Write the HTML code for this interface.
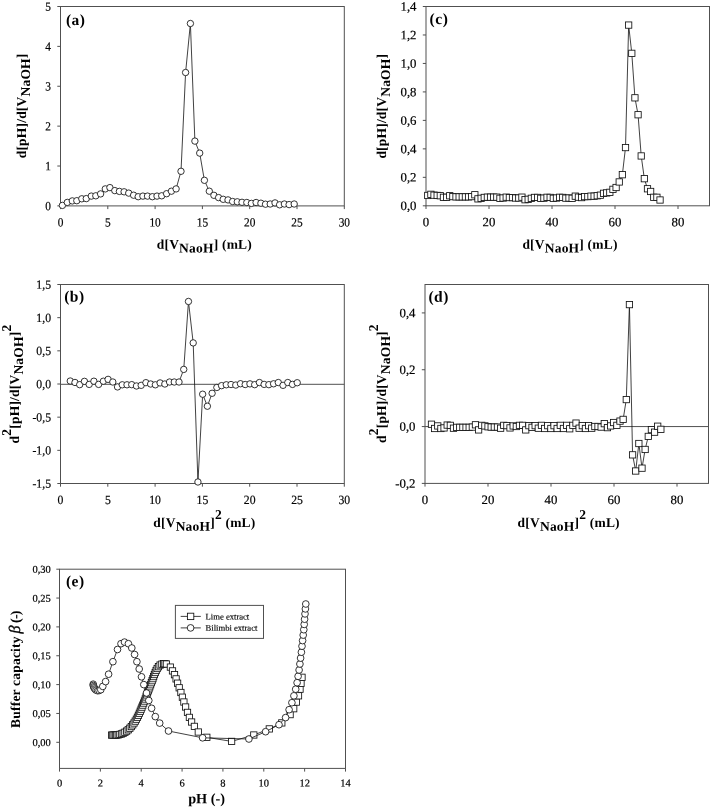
<!DOCTYPE html>
<html lang="en"><head><meta charset="utf-8"><title>Titration derivative curves and buffer capacity</title>
<style>html,body{margin:0;padding:0;background:#fff}svg{display:block}</style></head><body>
<svg width="710" height="807" viewBox="0 0 710 807" font-family="'Liberation Serif', 'Times New Roman', Times, serif" fill="#000" text-rendering="geometricPrecision" style="will-change:transform;filter:grayscale(1)">
<rect width="710" height="807" fill="#fff"/>
<rect x="60.5" y="6.5" width="283.8" height="199.4" fill="none" stroke="#505050" stroke-width="1.0"/>
<line x1="60.5" y1="205.9" x2="60.5" y2="209.1" stroke="#505050" stroke-width="1.0"/>
<text transform="translate(60.5 226.4) rotate(0.05) scale(0.9 1)" font-size="12.6" text-anchor="middle" stroke="#000" stroke-width="0.2">0</text>
<line x1="107.8" y1="205.9" x2="107.8" y2="209.1" stroke="#505050" stroke-width="1.0"/>
<text transform="translate(107.8 226.4) rotate(0.05) scale(0.9 1)" font-size="12.6" text-anchor="middle" stroke="#000" stroke-width="0.2">5</text>
<line x1="155.1" y1="205.9" x2="155.1" y2="209.1" stroke="#505050" stroke-width="1.0"/>
<text transform="translate(155.1 226.4) rotate(0.05) scale(0.9 1)" font-size="12.6" text-anchor="middle" stroke="#000" stroke-width="0.2">10</text>
<line x1="202.4" y1="205.9" x2="202.4" y2="209.1" stroke="#505050" stroke-width="1.0"/>
<text transform="translate(202.4 226.4) rotate(0.05) scale(0.9 1)" font-size="12.6" text-anchor="middle" stroke="#000" stroke-width="0.2">15</text>
<line x1="249.7" y1="205.9" x2="249.7" y2="209.1" stroke="#505050" stroke-width="1.0"/>
<text transform="translate(249.7 226.4) rotate(0.05) scale(0.9 1)" font-size="12.6" text-anchor="middle" stroke="#000" stroke-width="0.2">20</text>
<line x1="297" y1="205.9" x2="297" y2="209.1" stroke="#505050" stroke-width="1.0"/>
<text transform="translate(297 226.4) rotate(0.05) scale(0.9 1)" font-size="12.6" text-anchor="middle" stroke="#000" stroke-width="0.2">25</text>
<line x1="344.3" y1="205.9" x2="344.3" y2="209.1" stroke="#505050" stroke-width="1.0"/>
<text transform="translate(344.3 226.4) rotate(0.05) scale(0.9 1)" font-size="12.6" text-anchor="middle" stroke="#000" stroke-width="0.2">30</text>
<line x1="57.3" y1="205.9" x2="60.5" y2="205.9" stroke="#505050" stroke-width="1.0"/>
<text transform="translate(51 210.2) rotate(0.05) scale(0.9 1)" font-size="12.6" text-anchor="end" stroke="#000" stroke-width="0.2">0</text>
<line x1="57.3" y1="166.02" x2="60.5" y2="166.02" stroke="#505050" stroke-width="1.0"/>
<text transform="translate(51 170.32) rotate(0.05) scale(0.9 1)" font-size="12.6" text-anchor="end" stroke="#000" stroke-width="0.2">1</text>
<line x1="57.3" y1="126.14" x2="60.5" y2="126.14" stroke="#505050" stroke-width="1.0"/>
<text transform="translate(51 130.44) rotate(0.05) scale(0.9 1)" font-size="12.6" text-anchor="end" stroke="#000" stroke-width="0.2">2</text>
<line x1="57.3" y1="86.26" x2="60.5" y2="86.26" stroke="#505050" stroke-width="1.0"/>
<text transform="translate(51 90.56) rotate(0.05) scale(0.9 1)" font-size="12.6" text-anchor="end" stroke="#000" stroke-width="0.2">3</text>
<line x1="57.3" y1="46.38" x2="60.5" y2="46.38" stroke="#505050" stroke-width="1.0"/>
<text transform="translate(51 50.68) rotate(0.05) scale(0.9 1)" font-size="12.6" text-anchor="end" stroke="#000" stroke-width="0.2">4</text>
<line x1="57.3" y1="6.5" x2="60.5" y2="6.5" stroke="#505050" stroke-width="1.0"/>
<text transform="translate(51 10.8) rotate(0.05) scale(0.9 1)" font-size="12.6" text-anchor="end" stroke="#000" stroke-width="0.2">5</text>
<polyline points="62.4,205.4 67.3,202.4 72.3,200.9 76.8,200.7 81.8,198.8 86.3,198.6 91.3,196.1 95.8,195.8 100.6,193.9 105.3,188.9 109.9,187.6 114.8,190.6 119.4,191.4 124.1,191.8 128.7,193.1 133.6,195.2 138.2,196.7 142.9,196.1 147.5,196.1 152.4,196.7 157,196.1 161.7,195.8 166.6,193.7 171.4,191.2 176.1,188.9 181,171.3 185.6,72.5 190.4,23.5 194.9,141.1 199.7,153.1 204.4,180.3 209.3,191.2 213.9,195.3 218.6,197.6 223.2,199.3 228,199.9 232.6,201.5 237.3,201.8 242,202.3 246.8,202.5 251.4,203.4 256.1,202.5 260.9,203.2 265.5,204.2 270.2,204 275,202.9 279.6,204.8 284.4,204 289.1,204.6 294.2,204" fill="none" stroke="#111" stroke-width="0.8" stroke-linejoin="round"/>
<g fill="#fff" stroke="#111" stroke-width="0.85">
<circle cx="62.4" cy="205.4" r="3.2"/>
<circle cx="67.3" cy="202.4" r="3.2"/>
<circle cx="72.3" cy="200.9" r="3.2"/>
<circle cx="76.8" cy="200.7" r="3.2"/>
<circle cx="81.8" cy="198.8" r="3.2"/>
<circle cx="86.3" cy="198.6" r="3.2"/>
<circle cx="91.3" cy="196.1" r="3.2"/>
<circle cx="95.8" cy="195.8" r="3.2"/>
<circle cx="100.6" cy="193.9" r="3.2"/>
<circle cx="105.3" cy="188.9" r="3.2"/>
<circle cx="109.9" cy="187.6" r="3.2"/>
<circle cx="114.8" cy="190.6" r="3.2"/>
<circle cx="119.4" cy="191.4" r="3.2"/>
<circle cx="124.1" cy="191.8" r="3.2"/>
<circle cx="128.7" cy="193.1" r="3.2"/>
<circle cx="133.6" cy="195.2" r="3.2"/>
<circle cx="138.2" cy="196.7" r="3.2"/>
<circle cx="142.9" cy="196.1" r="3.2"/>
<circle cx="147.5" cy="196.1" r="3.2"/>
<circle cx="152.4" cy="196.7" r="3.2"/>
<circle cx="157" cy="196.1" r="3.2"/>
<circle cx="161.7" cy="195.8" r="3.2"/>
<circle cx="166.6" cy="193.7" r="3.2"/>
<circle cx="171.4" cy="191.2" r="3.2"/>
<circle cx="176.1" cy="188.9" r="3.2"/>
<circle cx="181" cy="171.3" r="3.2"/>
<circle cx="185.6" cy="72.5" r="3.2"/>
<circle cx="190.4" cy="23.5" r="3.2"/>
<circle cx="194.9" cy="141.1" r="3.2"/>
<circle cx="199.7" cy="153.1" r="3.2"/>
<circle cx="204.4" cy="180.3" r="3.2"/>
<circle cx="209.3" cy="191.2" r="3.2"/>
<circle cx="213.9" cy="195.3" r="3.2"/>
<circle cx="218.6" cy="197.6" r="3.2"/>
<circle cx="223.2" cy="199.3" r="3.2"/>
<circle cx="228" cy="199.9" r="3.2"/>
<circle cx="232.6" cy="201.5" r="3.2"/>
<circle cx="237.3" cy="201.8" r="3.2"/>
<circle cx="242" cy="202.3" r="3.2"/>
<circle cx="246.8" cy="202.5" r="3.2"/>
<circle cx="251.4" cy="203.4" r="3.2"/>
<circle cx="256.1" cy="202.5" r="3.2"/>
<circle cx="260.9" cy="203.2" r="3.2"/>
<circle cx="265.5" cy="204.2" r="3.2"/>
<circle cx="270.2" cy="204" r="3.2"/>
<circle cx="275" cy="202.9" r="3.2"/>
<circle cx="279.6" cy="204.8" r="3.2"/>
<circle cx="284.4" cy="204" r="3.2"/>
<circle cx="289.1" cy="204.6" r="3.2"/>
<circle cx="294.2" cy="204" r="3.2"/>
</g>
<text x="65.9" y="25" transform="rotate(0.05 65.9 25)" font-size="15.5" font-weight="bold" letter-spacing="0.5">(a)</text>
<text transform="translate(25.8,105.9) rotate(-90)" font-size="13.5" font-weight="bold" text-anchor="middle" letter-spacing="0.2">d[pH]/d[V<tspan dy="3.8" font-size="13.5">NaOH</tspan><tspan dy="-3.8">]</tspan></text>
<text x="204.4" y="248.8" transform="rotate(0.05 204.4 248.8)" font-size="13.5" font-weight="bold" text-anchor="middle" letter-spacing="0.2">d[V<tspan dy="3.8" font-size="13.5">NaoH</tspan><tspan dy="-3.8">]</tspan> (mL)</text>
<rect x="60.5" y="284.5" width="283.8" height="199" fill="none" stroke="#505050" stroke-width="1.0"/>
<line x1="60.5" y1="483.5" x2="60.5" y2="486.7" stroke="#505050" stroke-width="1.0"/>
<text transform="translate(60.5 504) rotate(0.05) scale(0.93 1)" font-size="12.6" text-anchor="middle" stroke="#000" stroke-width="0.2">0</text>
<line x1="107.8" y1="483.5" x2="107.8" y2="486.7" stroke="#505050" stroke-width="1.0"/>
<text transform="translate(107.8 504) rotate(0.05) scale(0.93 1)" font-size="12.6" text-anchor="middle" stroke="#000" stroke-width="0.2">5</text>
<line x1="155.1" y1="483.5" x2="155.1" y2="486.7" stroke="#505050" stroke-width="1.0"/>
<text transform="translate(155.1 504) rotate(0.05) scale(0.93 1)" font-size="12.6" text-anchor="middle" stroke="#000" stroke-width="0.2">10</text>
<line x1="202.4" y1="483.5" x2="202.4" y2="486.7" stroke="#505050" stroke-width="1.0"/>
<text transform="translate(202.4 504) rotate(0.05) scale(0.93 1)" font-size="12.6" text-anchor="middle" stroke="#000" stroke-width="0.2">15</text>
<line x1="249.7" y1="483.5" x2="249.7" y2="486.7" stroke="#505050" stroke-width="1.0"/>
<text transform="translate(249.7 504) rotate(0.05) scale(0.93 1)" font-size="12.6" text-anchor="middle" stroke="#000" stroke-width="0.2">20</text>
<line x1="297" y1="483.5" x2="297" y2="486.7" stroke="#505050" stroke-width="1.0"/>
<text transform="translate(297 504) rotate(0.05) scale(0.93 1)" font-size="12.6" text-anchor="middle" stroke="#000" stroke-width="0.2">25</text>
<line x1="344.3" y1="483.5" x2="344.3" y2="486.7" stroke="#505050" stroke-width="1.0"/>
<text transform="translate(344.3 504) rotate(0.05) scale(0.93 1)" font-size="12.6" text-anchor="middle" stroke="#000" stroke-width="0.2">30</text>
<line x1="57.3" y1="483.5" x2="60.5" y2="483.5" stroke="#505050" stroke-width="1.0"/>
<text transform="translate(51 487.8) rotate(0.05) scale(0.93 1)" font-size="12.6" text-anchor="end" stroke="#000" stroke-width="0.2">-1,5</text>
<line x1="57.3" y1="450.33" x2="60.5" y2="450.33" stroke="#505050" stroke-width="1.0"/>
<text transform="translate(51 454.63) rotate(0.05) scale(0.93 1)" font-size="12.6" text-anchor="end" stroke="#000" stroke-width="0.2">-1,0</text>
<line x1="57.3" y1="417.17" x2="60.5" y2="417.17" stroke="#505050" stroke-width="1.0"/>
<text transform="translate(51 421.47) rotate(0.05) scale(0.93 1)" font-size="12.6" text-anchor="end" stroke="#000" stroke-width="0.2">-0,5</text>
<line x1="57.3" y1="384" x2="60.5" y2="384" stroke="#505050" stroke-width="1.0"/>
<text transform="translate(51 388.3) rotate(0.05) scale(0.93 1)" font-size="12.6" text-anchor="end" stroke="#000" stroke-width="0.2">0,0</text>
<line x1="57.3" y1="350.83" x2="60.5" y2="350.83" stroke="#505050" stroke-width="1.0"/>
<text transform="translate(51 355.13) rotate(0.05) scale(0.93 1)" font-size="12.6" text-anchor="end" stroke="#000" stroke-width="0.2">0,5</text>
<line x1="57.3" y1="317.67" x2="60.5" y2="317.67" stroke="#505050" stroke-width="1.0"/>
<text transform="translate(51 321.97) rotate(0.05) scale(0.93 1)" font-size="12.6" text-anchor="end" stroke="#000" stroke-width="0.2">1,0</text>
<line x1="57.3" y1="284.5" x2="60.5" y2="284.5" stroke="#505050" stroke-width="1.0"/>
<text transform="translate(51 288.8) rotate(0.05) scale(0.93 1)" font-size="12.6" text-anchor="end" stroke="#000" stroke-width="0.2">1,5</text>
<line x1="60.5" y1="384.3" x2="344.3" y2="384.3" stroke="#505050" stroke-width="1.0"/>
<polyline points="70.26,381.02 74.99,382.48 79.71,384.66 84.44,381.35 89.17,384.4 93.9,381.22 98.63,384.4 103.36,381.22 108.09,379.36 112.81,382.01 117.54,386.92 122.27,384.8 127,384.8 131.73,384.66 136.46,385.99 141.18,385.33 145.91,382.67 150.64,384 155.37,384.8 160.1,382.94 164.83,384 169.56,382.01 174.28,382.01 179.01,382.01 183.74,369.41 188.47,301.46 193.2,342.89 197.93,481.99 202.66,394.21 207.38,406.21 212.11,393.28 216.84,387.45 221.57,385.66 226.3,384.8 231.03,384.53 235.75,385.06 240.48,383.73 245.21,384.53 249.94,383.87 254.67,384.66 259.4,382.54 264.13,384.4 268.85,384.66 273.58,383.8 278.31,382.54 283.04,385.33 287.77,382.54 292.5,384.4 297.23,382.74" fill="none" stroke="#111" stroke-width="0.8" stroke-linejoin="round"/>
<g fill="#fff" stroke="#111" stroke-width="0.85">
<circle cx="70.26" cy="381.02" r="3.2"/>
<circle cx="74.99" cy="382.48" r="3.2"/>
<circle cx="79.71" cy="384.66" r="3.2"/>
<circle cx="84.44" cy="381.35" r="3.2"/>
<circle cx="89.17" cy="384.4" r="3.2"/>
<circle cx="93.9" cy="381.22" r="3.2"/>
<circle cx="98.63" cy="384.4" r="3.2"/>
<circle cx="103.36" cy="381.22" r="3.2"/>
<circle cx="108.09" cy="379.36" r="3.2"/>
<circle cx="112.81" cy="382.01" r="3.2"/>
<circle cx="117.54" cy="386.92" r="3.2"/>
<circle cx="122.27" cy="384.8" r="3.2"/>
<circle cx="127" cy="384.8" r="3.2"/>
<circle cx="131.73" cy="384.66" r="3.2"/>
<circle cx="136.46" cy="385.99" r="3.2"/>
<circle cx="141.18" cy="385.33" r="3.2"/>
<circle cx="145.91" cy="382.67" r="3.2"/>
<circle cx="150.64" cy="384" r="3.2"/>
<circle cx="155.37" cy="384.8" r="3.2"/>
<circle cx="160.1" cy="382.94" r="3.2"/>
<circle cx="164.83" cy="384" r="3.2"/>
<circle cx="169.56" cy="382.01" r="3.2"/>
<circle cx="174.28" cy="382.01" r="3.2"/>
<circle cx="179.01" cy="382.01" r="3.2"/>
<circle cx="183.74" cy="369.41" r="3.2"/>
<circle cx="188.47" cy="301.46" r="3.2"/>
<circle cx="193.2" cy="342.89" r="3.2"/>
<circle cx="197.93" cy="481.99" r="3.2"/>
<circle cx="202.66" cy="394.21" r="3.2"/>
<circle cx="207.38" cy="406.21" r="3.2"/>
<circle cx="212.11" cy="393.28" r="3.2"/>
<circle cx="216.84" cy="387.45" r="3.2"/>
<circle cx="221.57" cy="385.66" r="3.2"/>
<circle cx="226.3" cy="384.8" r="3.2"/>
<circle cx="231.03" cy="384.53" r="3.2"/>
<circle cx="235.75" cy="385.06" r="3.2"/>
<circle cx="240.48" cy="383.73" r="3.2"/>
<circle cx="245.21" cy="384.53" r="3.2"/>
<circle cx="249.94" cy="383.87" r="3.2"/>
<circle cx="254.67" cy="384.66" r="3.2"/>
<circle cx="259.4" cy="382.54" r="3.2"/>
<circle cx="264.13" cy="384.4" r="3.2"/>
<circle cx="268.85" cy="384.66" r="3.2"/>
<circle cx="273.58" cy="383.8" r="3.2"/>
<circle cx="278.31" cy="382.54" r="3.2"/>
<circle cx="283.04" cy="385.33" r="3.2"/>
<circle cx="287.77" cy="382.54" r="3.2"/>
<circle cx="292.5" cy="384.4" r="3.2"/>
<circle cx="297.23" cy="382.74" r="3.2"/>
</g>
<text x="64.2" y="301.5" transform="rotate(0.05 64.2 301.5)" font-size="15.5" font-weight="bold" letter-spacing="0.5">(b)</text>
<text transform="translate(19.3,384) rotate(-90)" font-size="13.5" font-weight="bold" text-anchor="middle" letter-spacing="0.2">d<tspan dy="-8">2</tspan><tspan dy="8">[pH]/d[V</tspan><tspan dy="3.8" font-size="13.5">NaOH</tspan><tspan dy="-3.8">]</tspan><tspan dy="-8">2</tspan></text>
<text x="204.4" y="527" transform="rotate(0.05 204.4 527)" font-size="13.5" font-weight="bold" text-anchor="middle" letter-spacing="0.2">d[V<tspan dy="3.8" font-size="13.5">NaoH</tspan><tspan dy="-3.8">]</tspan><tspan dy="-8" font-size="13.5">2</tspan><tspan dy="8"> (mL)</tspan></text>
<rect x="426" y="6.5" width="283.5" height="199.3" fill="none" stroke="#505050" stroke-width="1.0"/>
<line x1="426" y1="205.8" x2="426" y2="209" stroke="#505050" stroke-width="1.0"/>
<text transform="translate(426 226.3) rotate(0.05) scale(1.0 1)" font-size="12.8" text-anchor="middle" stroke="#000" stroke-width="0.2">0</text>
<line x1="489" y1="205.8" x2="489" y2="209" stroke="#505050" stroke-width="1.0"/>
<text transform="translate(489 226.3) rotate(0.05) scale(1.0 1)" font-size="12.8" text-anchor="middle" stroke="#000" stroke-width="0.2">20</text>
<line x1="552" y1="205.8" x2="552" y2="209" stroke="#505050" stroke-width="1.0"/>
<text transform="translate(552 226.3) rotate(0.05) scale(1.0 1)" font-size="12.8" text-anchor="middle" stroke="#000" stroke-width="0.2">40</text>
<line x1="615" y1="205.8" x2="615" y2="209" stroke="#505050" stroke-width="1.0"/>
<text transform="translate(615 226.3) rotate(0.05) scale(1.0 1)" font-size="12.8" text-anchor="middle" stroke="#000" stroke-width="0.2">60</text>
<line x1="678" y1="205.8" x2="678" y2="209" stroke="#505050" stroke-width="1.0"/>
<text transform="translate(678 226.3) rotate(0.05) scale(1.0 1)" font-size="12.8" text-anchor="middle" stroke="#000" stroke-width="0.2">80</text>
<line x1="422.8" y1="205.8" x2="426" y2="205.8" stroke="#505050" stroke-width="1.0"/>
<text transform="translate(416.5 210.1) rotate(0.05) scale(1.0 1)" font-size="12.8" text-anchor="end" stroke="#000" stroke-width="0.2">0,0</text>
<line x1="422.8" y1="177.33" x2="426" y2="177.33" stroke="#505050" stroke-width="1.0"/>
<text transform="translate(416.5 181.63) rotate(0.05) scale(1.0 1)" font-size="12.8" text-anchor="end" stroke="#000" stroke-width="0.2">0,2</text>
<line x1="422.8" y1="148.86" x2="426" y2="148.86" stroke="#505050" stroke-width="1.0"/>
<text transform="translate(416.5 153.16) rotate(0.05) scale(1.0 1)" font-size="12.8" text-anchor="end" stroke="#000" stroke-width="0.2">0,4</text>
<line x1="422.8" y1="120.39" x2="426" y2="120.39" stroke="#505050" stroke-width="1.0"/>
<text transform="translate(416.5 124.69) rotate(0.05) scale(1.0 1)" font-size="12.8" text-anchor="end" stroke="#000" stroke-width="0.2">0,6</text>
<line x1="422.8" y1="91.91" x2="426" y2="91.91" stroke="#505050" stroke-width="1.0"/>
<text transform="translate(416.5 96.21) rotate(0.05) scale(1.0 1)" font-size="12.8" text-anchor="end" stroke="#000" stroke-width="0.2">0,8</text>
<line x1="422.8" y1="63.44" x2="426" y2="63.44" stroke="#505050" stroke-width="1.0"/>
<text transform="translate(416.5 67.74) rotate(0.05) scale(1.0 1)" font-size="12.8" text-anchor="end" stroke="#000" stroke-width="0.2">1,0</text>
<line x1="422.8" y1="34.97" x2="426" y2="34.97" stroke="#505050" stroke-width="1.0"/>
<text transform="translate(416.5 39.27) rotate(0.05) scale(1.0 1)" font-size="12.8" text-anchor="end" stroke="#000" stroke-width="0.2">1,2</text>
<line x1="422.8" y1="6.5" x2="426" y2="6.5" stroke="#505050" stroke-width="1.0"/>
<text transform="translate(416.5 10.8) rotate(0.05) scale(1.0 1)" font-size="12.8" text-anchor="end" stroke="#000" stroke-width="0.2">1,4</text>
<polyline points="427.76,195.45 430.89,194.32 434.03,195.17 437.17,195.45 440.31,195.74 443.45,197.3 446.59,197.3 449.73,195.74 452.87,196.59 456.01,196.87 459.15,196.87 462.28,196.87 465.42,196.87 468.56,196.87 471.7,196.59 474.84,194.74 477.98,198.86 481.12,198.3 484.26,197.44 487.4,197.16 490.54,197.16 493.67,197.16 496.81,197.16 499.95,198.3 503.09,198.01 506.23,197.16 509.37,197.58 512.51,197.58 515.65,198.01 518.79,198.01 521.93,197.16 525.06,199.72 528.2,199.29 531.34,198.3 534.48,197.44 537.62,197.44 540.76,198.3 543.9,198.15 547.04,197.3 550.18,197.44 553.32,198.3 556.45,198.01 559.59,197.3 562.73,197.44 565.87,198.15 569.01,198.01 572.15,198.3 575.29,196.16 578.43,197.16 581.57,197.58 584.71,196.59 587.84,196.59 590.98,196.16 594.12,196.16 597.26,195.74 600.4,195.17 603.54,193.32 606.68,192.9 609.82,192.33 612.96,189.34 616.1,187.5 619.23,181.95 622.37,174.71 625.51,147.57 628.65,25.08 631.79,53.35 634.93,97.83 638.07,114.74 641.21,155.95 644.35,178.69 647.49,188.77 650.62,191.47 653.76,197.3 656.9,197.3 660.04,200" fill="none" stroke="#111" stroke-width="0.8" stroke-linejoin="round"/>
<g fill="#fff" stroke="#111" stroke-width="0.85">
<rect x="424.61" y="192.3" width="6.3" height="6.3"/>
<rect x="427.74" y="191.17" width="6.3" height="6.3"/>
<rect x="430.88" y="192.02" width="6.3" height="6.3"/>
<rect x="434.02" y="192.3" width="6.3" height="6.3"/>
<rect x="437.16" y="192.59" width="6.3" height="6.3"/>
<rect x="440.3" y="194.15" width="6.3" height="6.3"/>
<rect x="443.44" y="194.15" width="6.3" height="6.3"/>
<rect x="446.58" y="192.59" width="6.3" height="6.3"/>
<rect x="449.72" y="193.44" width="6.3" height="6.3"/>
<rect x="452.86" y="193.72" width="6.3" height="6.3"/>
<rect x="456" y="193.72" width="6.3" height="6.3"/>
<rect x="459.13" y="193.72" width="6.3" height="6.3"/>
<rect x="462.27" y="193.72" width="6.3" height="6.3"/>
<rect x="465.41" y="193.72" width="6.3" height="6.3"/>
<rect x="468.55" y="193.44" width="6.3" height="6.3"/>
<rect x="471.69" y="191.59" width="6.3" height="6.3"/>
<rect x="474.83" y="195.71" width="6.3" height="6.3"/>
<rect x="477.97" y="195.15" width="6.3" height="6.3"/>
<rect x="481.11" y="194.29" width="6.3" height="6.3"/>
<rect x="484.25" y="194.01" width="6.3" height="6.3"/>
<rect x="487.39" y="194.01" width="6.3" height="6.3"/>
<rect x="490.52" y="194.01" width="6.3" height="6.3"/>
<rect x="493.66" y="194.01" width="6.3" height="6.3"/>
<rect x="496.8" y="195.15" width="6.3" height="6.3"/>
<rect x="499.94" y="194.86" width="6.3" height="6.3"/>
<rect x="503.08" y="194.01" width="6.3" height="6.3"/>
<rect x="506.22" y="194.43" width="6.3" height="6.3"/>
<rect x="509.36" y="194.43" width="6.3" height="6.3"/>
<rect x="512.5" y="194.86" width="6.3" height="6.3"/>
<rect x="515.64" y="194.86" width="6.3" height="6.3"/>
<rect x="518.78" y="194.01" width="6.3" height="6.3"/>
<rect x="521.91" y="196.57" width="6.3" height="6.3"/>
<rect x="525.05" y="196.14" width="6.3" height="6.3"/>
<rect x="528.19" y="195.15" width="6.3" height="6.3"/>
<rect x="531.33" y="194.29" width="6.3" height="6.3"/>
<rect x="534.47" y="194.29" width="6.3" height="6.3"/>
<rect x="537.61" y="195.15" width="6.3" height="6.3"/>
<rect x="540.75" y="195" width="6.3" height="6.3"/>
<rect x="543.89" y="194.15" width="6.3" height="6.3"/>
<rect x="547.03" y="194.29" width="6.3" height="6.3"/>
<rect x="550.17" y="195.15" width="6.3" height="6.3"/>
<rect x="553.3" y="194.86" width="6.3" height="6.3"/>
<rect x="556.44" y="194.15" width="6.3" height="6.3"/>
<rect x="559.58" y="194.29" width="6.3" height="6.3"/>
<rect x="562.72" y="195" width="6.3" height="6.3"/>
<rect x="565.86" y="194.86" width="6.3" height="6.3"/>
<rect x="569" y="195.15" width="6.3" height="6.3"/>
<rect x="572.14" y="193.01" width="6.3" height="6.3"/>
<rect x="575.28" y="194.01" width="6.3" height="6.3"/>
<rect x="578.42" y="194.43" width="6.3" height="6.3"/>
<rect x="581.56" y="193.44" width="6.3" height="6.3"/>
<rect x="584.69" y="193.44" width="6.3" height="6.3"/>
<rect x="587.83" y="193.01" width="6.3" height="6.3"/>
<rect x="590.97" y="193.01" width="6.3" height="6.3"/>
<rect x="594.11" y="192.59" width="6.3" height="6.3"/>
<rect x="597.25" y="192.02" width="6.3" height="6.3"/>
<rect x="600.39" y="190.17" width="6.3" height="6.3"/>
<rect x="603.53" y="189.75" width="6.3" height="6.3"/>
<rect x="606.67" y="189.18" width="6.3" height="6.3"/>
<rect x="609.81" y="186.19" width="6.3" height="6.3"/>
<rect x="612.95" y="184.35" width="6.3" height="6.3"/>
<rect x="616.08" y="178.8" width="6.3" height="6.3"/>
<rect x="619.22" y="171.56" width="6.3" height="6.3"/>
<rect x="622.36" y="144.42" width="6.3" height="6.3"/>
<rect x="625.5" y="21.93" width="6.3" height="6.3"/>
<rect x="628.64" y="50.2" width="6.3" height="6.3"/>
<rect x="631.78" y="94.68" width="6.3" height="6.3"/>
<rect x="634.92" y="111.59" width="6.3" height="6.3"/>
<rect x="638.06" y="152.8" width="6.3" height="6.3"/>
<rect x="641.2" y="175.54" width="6.3" height="6.3"/>
<rect x="644.34" y="185.62" width="6.3" height="6.3"/>
<rect x="647.47" y="188.32" width="6.3" height="6.3"/>
<rect x="650.61" y="194.15" width="6.3" height="6.3"/>
<rect x="653.75" y="194.15" width="6.3" height="6.3"/>
<rect x="656.89" y="196.85" width="6.3" height="6.3"/>
</g>
<text x="429.6" y="23.9" transform="rotate(0.05 429.6 23.9)" font-size="15.5" font-weight="bold" letter-spacing="0.5">(c)</text>
<text transform="translate(386.4,106.2) rotate(-90)" font-size="13.5" font-weight="bold" text-anchor="middle" letter-spacing="0.2">d[pH]/d[V<tspan dy="3.8" font-size="13.5">NaOH</tspan><tspan dy="-3.8">]</tspan></text>
<text x="570" y="248.8" transform="rotate(0.05 570 248.8)" font-size="13.5" font-weight="bold" text-anchor="middle" letter-spacing="0.2">d[V<tspan dy="3.8" font-size="13.5">NaoH</tspan><tspan dy="-3.8">]</tspan> (mL)</text>
<rect x="425" y="284.5" width="283.5" height="198.9" fill="none" stroke="#505050" stroke-width="1.0"/>
<line x1="425" y1="483.4" x2="425" y2="486.6" stroke="#505050" stroke-width="1.0"/>
<text transform="translate(425 503.9) rotate(0.05) scale(1.0 1)" font-size="12.8" text-anchor="middle" stroke="#000" stroke-width="0.2">0</text>
<line x1="488" y1="483.4" x2="488" y2="486.6" stroke="#505050" stroke-width="1.0"/>
<text transform="translate(488 503.9) rotate(0.05) scale(1.0 1)" font-size="12.8" text-anchor="middle" stroke="#000" stroke-width="0.2">20</text>
<line x1="551" y1="483.4" x2="551" y2="486.6" stroke="#505050" stroke-width="1.0"/>
<text transform="translate(551 503.9) rotate(0.05) scale(1.0 1)" font-size="12.8" text-anchor="middle" stroke="#000" stroke-width="0.2">40</text>
<line x1="614" y1="483.4" x2="614" y2="486.6" stroke="#505050" stroke-width="1.0"/>
<text transform="translate(614 503.9) rotate(0.05) scale(1.0 1)" font-size="12.8" text-anchor="middle" stroke="#000" stroke-width="0.2">60</text>
<line x1="677" y1="483.4" x2="677" y2="486.6" stroke="#505050" stroke-width="1.0"/>
<text transform="translate(677 503.9) rotate(0.05) scale(1.0 1)" font-size="12.8" text-anchor="middle" stroke="#000" stroke-width="0.2">80</text>
<line x1="421.8" y1="483.4" x2="425" y2="483.4" stroke="#505050" stroke-width="1.0"/>
<text transform="translate(415.5 487.7) rotate(0.05) scale(1.0 1)" font-size="12.8" text-anchor="end" stroke="#000" stroke-width="0.2">-0,2</text>
<line x1="421.8" y1="426.57" x2="425" y2="426.57" stroke="#505050" stroke-width="1.0"/>
<text transform="translate(415.5 430.87) rotate(0.05) scale(1.0 1)" font-size="12.8" text-anchor="end" stroke="#000" stroke-width="0.2">0,0</text>
<line x1="421.8" y1="369.74" x2="425" y2="369.74" stroke="#505050" stroke-width="1.0"/>
<text transform="translate(415.5 374.04) rotate(0.05) scale(1.0 1)" font-size="12.8" text-anchor="end" stroke="#000" stroke-width="0.2">0,2</text>
<line x1="421.8" y1="312.91" x2="425" y2="312.91" stroke="#505050" stroke-width="1.0"/>
<text transform="translate(415.5 317.21) rotate(0.05) scale(1.0 1)" font-size="12.8" text-anchor="end" stroke="#000" stroke-width="0.2">0,4</text>
<line x1="425" y1="426.57" x2="708.5" y2="426.57" stroke="#505050" stroke-width="1.0"/>
<polyline points="431.48,424.23 434.63,428.48 437.77,425.93 440.91,428.48 444.05,427.92 447.19,425.08 450.34,425.37 453.48,428.2 456.62,427.35 459.76,427.35 462.9,427.35 466.05,427.35 469.19,427.35 472.33,427.07 475.47,424.8 478.61,429.9 481.76,425.37 484.9,425.93 488.04,426.78 491.18,427.07 494.32,427.07 497.47,427.07 500.61,428.2 503.75,425.37 506.89,425.65 510.03,427.92 513.18,425.93 516.32,426.5 519.46,425.37 522.6,425.37 525.74,429.9 528.89,425.65 532.03,427.35 535.17,425.65 538.31,428.2 541.45,425.37 544.6,428.48 547.74,425.65 550.88,428.48 554.02,425.65 557.16,428.48 560.31,425.37 563.45,428.48 566.59,425.37 569.73,428.77 572.87,425.37 576.02,423.1 579.16,428.2 582.3,425.65 585.44,428.48 588.58,425.65 591.73,428.2 594.87,426.5 598.01,426.5 601.15,427.07 604.29,423.67 607.44,427.63 610.58,425.93 613.72,422.53 616.86,425.37 620,421.11 623.15,419.41 626.29,399.57 629.43,304.6 632.57,454.85 635.71,471.01 638.86,443.51 642,468.17 645.14,449.46 648.28,436.42 651.42,429.62 654.57,432.17 657.71,426.22 660.85,429.33" fill="none" stroke="#111" stroke-width="0.8" stroke-linejoin="round"/>
<g fill="#fff" stroke="#111" stroke-width="0.85">
<rect x="428.33" y="421.08" width="6.3" height="6.3"/>
<rect x="431.48" y="425.33" width="6.3" height="6.3"/>
<rect x="434.62" y="422.78" width="6.3" height="6.3"/>
<rect x="437.76" y="425.33" width="6.3" height="6.3"/>
<rect x="440.9" y="424.77" width="6.3" height="6.3"/>
<rect x="444.04" y="421.93" width="6.3" height="6.3"/>
<rect x="447.19" y="422.22" width="6.3" height="6.3"/>
<rect x="450.33" y="425.05" width="6.3" height="6.3"/>
<rect x="453.47" y="424.2" width="6.3" height="6.3"/>
<rect x="456.61" y="424.2" width="6.3" height="6.3"/>
<rect x="459.75" y="424.2" width="6.3" height="6.3"/>
<rect x="462.9" y="424.2" width="6.3" height="6.3"/>
<rect x="466.04" y="424.2" width="6.3" height="6.3"/>
<rect x="469.18" y="423.92" width="6.3" height="6.3"/>
<rect x="472.32" y="421.65" width="6.3" height="6.3"/>
<rect x="475.46" y="426.75" width="6.3" height="6.3"/>
<rect x="478.61" y="422.22" width="6.3" height="6.3"/>
<rect x="481.75" y="422.78" width="6.3" height="6.3"/>
<rect x="484.89" y="423.63" width="6.3" height="6.3"/>
<rect x="488.03" y="423.92" width="6.3" height="6.3"/>
<rect x="491.17" y="423.92" width="6.3" height="6.3"/>
<rect x="494.32" y="423.92" width="6.3" height="6.3"/>
<rect x="497.46" y="425.05" width="6.3" height="6.3"/>
<rect x="500.6" y="422.22" width="6.3" height="6.3"/>
<rect x="503.74" y="422.5" width="6.3" height="6.3"/>
<rect x="506.88" y="424.77" width="6.3" height="6.3"/>
<rect x="510.03" y="422.78" width="6.3" height="6.3"/>
<rect x="513.17" y="423.35" width="6.3" height="6.3"/>
<rect x="516.31" y="422.22" width="6.3" height="6.3"/>
<rect x="519.45" y="422.22" width="6.3" height="6.3"/>
<rect x="522.59" y="426.75" width="6.3" height="6.3"/>
<rect x="525.74" y="422.5" width="6.3" height="6.3"/>
<rect x="528.88" y="424.2" width="6.3" height="6.3"/>
<rect x="532.02" y="422.5" width="6.3" height="6.3"/>
<rect x="535.16" y="425.05" width="6.3" height="6.3"/>
<rect x="538.3" y="422.22" width="6.3" height="6.3"/>
<rect x="541.45" y="425.33" width="6.3" height="6.3"/>
<rect x="544.59" y="422.5" width="6.3" height="6.3"/>
<rect x="547.73" y="425.33" width="6.3" height="6.3"/>
<rect x="550.87" y="422.5" width="6.3" height="6.3"/>
<rect x="554.01" y="425.33" width="6.3" height="6.3"/>
<rect x="557.16" y="422.22" width="6.3" height="6.3"/>
<rect x="560.3" y="425.33" width="6.3" height="6.3"/>
<rect x="563.44" y="422.22" width="6.3" height="6.3"/>
<rect x="566.58" y="425.62" width="6.3" height="6.3"/>
<rect x="569.72" y="422.22" width="6.3" height="6.3"/>
<rect x="572.87" y="419.95" width="6.3" height="6.3"/>
<rect x="576.01" y="425.05" width="6.3" height="6.3"/>
<rect x="579.15" y="422.5" width="6.3" height="6.3"/>
<rect x="582.29" y="425.33" width="6.3" height="6.3"/>
<rect x="585.43" y="422.5" width="6.3" height="6.3"/>
<rect x="588.58" y="425.05" width="6.3" height="6.3"/>
<rect x="591.72" y="423.35" width="6.3" height="6.3"/>
<rect x="594.86" y="423.35" width="6.3" height="6.3"/>
<rect x="598" y="423.92" width="6.3" height="6.3"/>
<rect x="601.14" y="420.52" width="6.3" height="6.3"/>
<rect x="604.29" y="424.48" width="6.3" height="6.3"/>
<rect x="607.43" y="422.78" width="6.3" height="6.3"/>
<rect x="610.57" y="419.38" width="6.3" height="6.3"/>
<rect x="613.71" y="422.22" width="6.3" height="6.3"/>
<rect x="616.85" y="417.96" width="6.3" height="6.3"/>
<rect x="620" y="416.26" width="6.3" height="6.3"/>
<rect x="623.14" y="396.42" width="6.3" height="6.3"/>
<rect x="626.28" y="301.45" width="6.3" height="6.3"/>
<rect x="629.42" y="451.7" width="6.3" height="6.3"/>
<rect x="632.56" y="467.86" width="6.3" height="6.3"/>
<rect x="635.71" y="440.36" width="6.3" height="6.3"/>
<rect x="638.85" y="465.02" width="6.3" height="6.3"/>
<rect x="641.99" y="446.31" width="6.3" height="6.3"/>
<rect x="645.13" y="433.27" width="6.3" height="6.3"/>
<rect x="648.27" y="426.47" width="6.3" height="6.3"/>
<rect x="651.42" y="429.02" width="6.3" height="6.3"/>
<rect x="654.56" y="423.07" width="6.3" height="6.3"/>
<rect x="657.7" y="426.19" width="6.3" height="6.3"/>
</g>
<text x="428.4" y="301.8" transform="rotate(0.05 428.4 301.8)" font-size="15.5" font-weight="bold" letter-spacing="0.5">(d)</text>
<text transform="translate(386.2,383.6) rotate(-90)" font-size="13.5" font-weight="bold" text-anchor="middle" letter-spacing="0.2">d<tspan dy="-8">2</tspan><tspan dy="8">[pH]/d[V</tspan><tspan dy="3.8" font-size="13.5">NaOH</tspan><tspan dy="-3.8">]</tspan><tspan dy="-8">2</tspan></text>
<text x="568.7" y="527" transform="rotate(0.05 568.7 527)" font-size="13.5" font-weight="bold" text-anchor="middle" letter-spacing="0.2">d[V<tspan dy="3.8" font-size="13.5">NaoH</tspan><tspan dy="-3.8">]</tspan><tspan dy="-8" font-size="13.5">2</tspan><tspan dy="8"> (mL)</tspan></text>
<rect x="59.5" y="569.2" width="286" height="199.2" fill="none" stroke="#505050" stroke-width="1.0"/>
<line x1="59.5" y1="768.4" x2="59.5" y2="771.6" stroke="#505050" stroke-width="1.0"/>
<text transform="translate(59.5 786.5) rotate(0.05) scale(1.0 1)" font-size="10.5" text-anchor="middle" stroke="#000" stroke-width="0.2">0</text>
<line x1="100.36" y1="768.4" x2="100.36" y2="771.6" stroke="#505050" stroke-width="1.0"/>
<text transform="translate(100.36 786.5) rotate(0.05) scale(1.0 1)" font-size="10.5" text-anchor="middle" stroke="#000" stroke-width="0.2">2</text>
<line x1="141.21" y1="768.4" x2="141.21" y2="771.6" stroke="#505050" stroke-width="1.0"/>
<text transform="translate(141.21 786.5) rotate(0.05) scale(1.0 1)" font-size="10.5" text-anchor="middle" stroke="#000" stroke-width="0.2">4</text>
<line x1="182.07" y1="768.4" x2="182.07" y2="771.6" stroke="#505050" stroke-width="1.0"/>
<text transform="translate(182.07 786.5) rotate(0.05) scale(1.0 1)" font-size="10.5" text-anchor="middle" stroke="#000" stroke-width="0.2">6</text>
<line x1="222.93" y1="768.4" x2="222.93" y2="771.6" stroke="#505050" stroke-width="1.0"/>
<text transform="translate(222.93 786.5) rotate(0.05) scale(1.0 1)" font-size="10.5" text-anchor="middle" stroke="#000" stroke-width="0.2">8</text>
<line x1="263.79" y1="768.4" x2="263.79" y2="771.6" stroke="#505050" stroke-width="1.0"/>
<text transform="translate(263.79 786.5) rotate(0.05) scale(1.0 1)" font-size="10.5" text-anchor="middle" stroke="#000" stroke-width="0.2">10</text>
<line x1="304.64" y1="768.4" x2="304.64" y2="771.6" stroke="#505050" stroke-width="1.0"/>
<text transform="translate(304.64 786.5) rotate(0.05) scale(1.0 1)" font-size="10.5" text-anchor="middle" stroke="#000" stroke-width="0.2">12</text>
<line x1="345.5" y1="768.4" x2="345.5" y2="771.6" stroke="#505050" stroke-width="1.0"/>
<text transform="translate(345.5 786.5) rotate(0.05) scale(1.0 1)" font-size="10.5" text-anchor="middle" stroke="#000" stroke-width="0.2">14</text>
<line x1="56.3" y1="742.3" x2="59.5" y2="742.3" stroke="#505050" stroke-width="1.0"/>
<text transform="translate(50.8 745.9) rotate(0.05) scale(1.0 1)" font-size="10.5" text-anchor="end" stroke="#000" stroke-width="0.2">0,00</text>
<line x1="56.3" y1="713.45" x2="59.5" y2="713.45" stroke="#505050" stroke-width="1.0"/>
<text transform="translate(50.8 717.05) rotate(0.05) scale(1.0 1)" font-size="10.5" text-anchor="end" stroke="#000" stroke-width="0.2">0,05</text>
<line x1="56.3" y1="684.6" x2="59.5" y2="684.6" stroke="#505050" stroke-width="1.0"/>
<text transform="translate(50.8 688.2) rotate(0.05) scale(1.0 1)" font-size="10.5" text-anchor="end" stroke="#000" stroke-width="0.2">0,10</text>
<line x1="56.3" y1="655.75" x2="59.5" y2="655.75" stroke="#505050" stroke-width="1.0"/>
<text transform="translate(50.8 659.35) rotate(0.05) scale(1.0 1)" font-size="10.5" text-anchor="end" stroke="#000" stroke-width="0.2">0,15</text>
<line x1="56.3" y1="626.9" x2="59.5" y2="626.9" stroke="#505050" stroke-width="1.0"/>
<text transform="translate(50.8 630.5) rotate(0.05) scale(1.0 1)" font-size="10.5" text-anchor="end" stroke="#000" stroke-width="0.2">0,20</text>
<line x1="56.3" y1="598.05" x2="59.5" y2="598.05" stroke="#505050" stroke-width="1.0"/>
<text transform="translate(50.8 601.65) rotate(0.05) scale(1.0 1)" font-size="10.5" text-anchor="end" stroke="#000" stroke-width="0.2">0,25</text>
<line x1="56.3" y1="569.2" x2="59.5" y2="569.2" stroke="#505050" stroke-width="1.0"/>
<text transform="translate(50.8 572.8) rotate(0.05) scale(1.0 1)" font-size="10.5" text-anchor="end" stroke="#000" stroke-width="0.2">0,30</text>
<polyline points="111.6,735.1 112.88,735.09 114.18,735.07 115.49,735.03 116.81,734.98 118.24,734.79 119.84,734.41 121.49,733.9 123.14,733.23 124.89,732.25 126.61,731.09 128.24,729.77 129.82,728.22 131.31,726.56 132.71,724.84 134.02,723.01 135.25,721.12 136.39,719.19 137.45,717.23 138.44,715.23 139.38,713.22 140.27,711.2 141.12,709.17 141.95,707.14 142.79,705.11 143.63,703.08 144.47,701.05 145.28,699.02 146.06,696.98 146.79,694.93 147.51,692.89 148.23,690.84 148.99,688.81 149.77,686.77 150.58,684.74 151.38,682.7 152.16,680.67 152.91,678.62 153.63,676.57 154.39,674.53 155.22,672.52 156.13,670.48 157.17,668.51 158.46,666.69 160.07,665.04 161.87,664.15 163.66,663.71 164.96,663.74 166.42,664.01 170.4,667.1 172.5,670.9 174.5,674.7 176.1,678.9 177.6,683.2 179.2,687.8 180.9,692.5 182.4,697.2 183.9,702 185.6,707 187.5,712.4 189.4,717.4 191.6,722 194.4,726.4 198.3,732 206.8,737.3 231.6,741.4 253.8,735 269.3,728.9 281.8,722.9 290.1,714.6 293.7,708.7 296.3,702.1 298.5,695.8 300,689.2 301,683.3 302,677.3" fill="none" stroke="#111" stroke-width="0.8" stroke-linejoin="round"/>
<g fill="#fff" stroke="#111" stroke-width="0.85">
<rect x="108.45" y="731.95" width="6.3" height="6.3"/>
<rect x="109.73" y="731.94" width="6.3" height="6.3"/>
<rect x="111.03" y="731.92" width="6.3" height="6.3"/>
<rect x="112.34" y="731.88" width="6.3" height="6.3"/>
<rect x="113.66" y="731.83" width="6.3" height="6.3"/>
<rect x="115.09" y="731.64" width="6.3" height="6.3"/>
<rect x="116.69" y="731.26" width="6.3" height="6.3"/>
<rect x="118.34" y="730.75" width="6.3" height="6.3"/>
<rect x="119.99" y="730.08" width="6.3" height="6.3"/>
<rect x="121.74" y="729.1" width="6.3" height="6.3"/>
<rect x="123.46" y="727.94" width="6.3" height="6.3"/>
<rect x="125.09" y="726.62" width="6.3" height="6.3"/>
<rect x="126.67" y="725.07" width="6.3" height="6.3"/>
<rect x="128.16" y="723.41" width="6.3" height="6.3"/>
<rect x="129.56" y="721.69" width="6.3" height="6.3"/>
<rect x="130.87" y="719.86" width="6.3" height="6.3"/>
<rect x="132.1" y="717.97" width="6.3" height="6.3"/>
<rect x="133.24" y="716.04" width="6.3" height="6.3"/>
<rect x="134.3" y="714.08" width="6.3" height="6.3"/>
<rect x="135.29" y="712.08" width="6.3" height="6.3"/>
<rect x="136.23" y="710.07" width="6.3" height="6.3"/>
<rect x="137.12" y="708.05" width="6.3" height="6.3"/>
<rect x="137.97" y="706.02" width="6.3" height="6.3"/>
<rect x="138.8" y="703.99" width="6.3" height="6.3"/>
<rect x="139.64" y="701.96" width="6.3" height="6.3"/>
<rect x="140.48" y="699.93" width="6.3" height="6.3"/>
<rect x="141.32" y="697.9" width="6.3" height="6.3"/>
<rect x="142.13" y="695.87" width="6.3" height="6.3"/>
<rect x="142.91" y="693.83" width="6.3" height="6.3"/>
<rect x="143.64" y="691.78" width="6.3" height="6.3"/>
<rect x="144.36" y="689.74" width="6.3" height="6.3"/>
<rect x="145.08" y="687.69" width="6.3" height="6.3"/>
<rect x="145.84" y="685.66" width="6.3" height="6.3"/>
<rect x="146.62" y="683.62" width="6.3" height="6.3"/>
<rect x="147.43" y="681.59" width="6.3" height="6.3"/>
<rect x="148.23" y="679.55" width="6.3" height="6.3"/>
<rect x="149.01" y="677.52" width="6.3" height="6.3"/>
<rect x="149.76" y="675.47" width="6.3" height="6.3"/>
<rect x="150.48" y="673.42" width="6.3" height="6.3"/>
<rect x="151.24" y="671.38" width="6.3" height="6.3"/>
<rect x="152.07" y="669.37" width="6.3" height="6.3"/>
<rect x="152.98" y="667.33" width="6.3" height="6.3"/>
<rect x="154.02" y="665.36" width="6.3" height="6.3"/>
<rect x="155.31" y="663.54" width="6.3" height="6.3"/>
<rect x="156.92" y="661.89" width="6.3" height="6.3"/>
<rect x="158.72" y="661" width="6.3" height="6.3"/>
<rect x="160.51" y="660.56" width="6.3" height="6.3"/>
<rect x="161.81" y="660.59" width="6.3" height="6.3"/>
<rect x="163.27" y="660.86" width="6.3" height="6.3"/>
<rect x="167.25" y="663.95" width="6.3" height="6.3"/>
<rect x="169.35" y="667.75" width="6.3" height="6.3"/>
<rect x="171.35" y="671.55" width="6.3" height="6.3"/>
<rect x="172.95" y="675.75" width="6.3" height="6.3"/>
<rect x="174.45" y="680.05" width="6.3" height="6.3"/>
<rect x="176.05" y="684.65" width="6.3" height="6.3"/>
<rect x="177.75" y="689.35" width="6.3" height="6.3"/>
<rect x="179.25" y="694.05" width="6.3" height="6.3"/>
<rect x="180.75" y="698.85" width="6.3" height="6.3"/>
<rect x="182.45" y="703.85" width="6.3" height="6.3"/>
<rect x="184.35" y="709.25" width="6.3" height="6.3"/>
<rect x="186.25" y="714.25" width="6.3" height="6.3"/>
<rect x="188.45" y="718.85" width="6.3" height="6.3"/>
<rect x="191.25" y="723.25" width="6.3" height="6.3"/>
<rect x="195.15" y="728.85" width="6.3" height="6.3"/>
<rect x="203.65" y="734.15" width="6.3" height="6.3"/>
<rect x="228.45" y="738.25" width="6.3" height="6.3"/>
<rect x="250.65" y="731.85" width="6.3" height="6.3"/>
<rect x="266.15" y="725.75" width="6.3" height="6.3"/>
<rect x="278.65" y="719.75" width="6.3" height="6.3"/>
<rect x="286.95" y="711.45" width="6.3" height="6.3"/>
<rect x="290.55" y="705.55" width="6.3" height="6.3"/>
<rect x="293.15" y="698.95" width="6.3" height="6.3"/>
<rect x="295.35" y="692.65" width="6.3" height="6.3"/>
<rect x="296.85" y="686.05" width="6.3" height="6.3"/>
<rect x="297.85" y="680.15" width="6.3" height="6.3"/>
<rect x="298.85" y="674.15" width="6.3" height="6.3"/>
</g>
<polyline points="93.2,684.2 93.3,685.5 93.7,686.8 94.2,687.9 95,689.1 96.1,690.1 97.6,690.7 99.1,690.5 100.8,689.7 102.8,686.4 105.6,681.6 108.6,674.2 112.9,661.7 117.5,649.5 121,643.7 124.5,642.1 128.4,643.7 131.8,648 134.6,654.5 136.9,661.7 139.2,669 141.5,676.8 143.8,684.6 146.5,693 148.8,700.5 151.6,708.3 155.3,716.6 159.7,723.1 168.5,731 202.6,737.8 248.9,739 265.6,731.7 279,724.7 285.6,717.6 289.1,709.7 291.9,702.7 293.9,695.8 295.7,689.2 297.1,682.7 298.1,676.3 299.1,670 299.9,664 300.6,658.1 301.4,652.2 302,646.2 302.6,640.6 303.2,635.1 303.8,629.7 304.2,624.4 304.6,619.2 305,613.9 305.4,608.9 305.8,604" fill="none" stroke="#111" stroke-width="0.8" stroke-linejoin="round"/>
<g fill="#fff" stroke="#111" stroke-width="0.85">
<circle cx="93.2" cy="684.2" r="3.35"/>
<circle cx="93.3" cy="685.5" r="3.35"/>
<circle cx="93.7" cy="686.8" r="3.35"/>
<circle cx="94.2" cy="687.9" r="3.35"/>
<circle cx="95" cy="689.1" r="3.35"/>
<circle cx="96.1" cy="690.1" r="3.35"/>
<circle cx="97.6" cy="690.7" r="3.35"/>
<circle cx="99.1" cy="690.5" r="3.35"/>
<circle cx="100.8" cy="689.7" r="3.35"/>
<circle cx="102.8" cy="686.4" r="3.35"/>
<circle cx="105.6" cy="681.6" r="3.35"/>
<circle cx="108.6" cy="674.2" r="3.35"/>
<circle cx="112.9" cy="661.7" r="3.35"/>
<circle cx="117.5" cy="649.5" r="3.35"/>
<circle cx="121" cy="643.7" r="3.35"/>
<circle cx="124.5" cy="642.1" r="3.35"/>
<circle cx="128.4" cy="643.7" r="3.35"/>
<circle cx="131.8" cy="648" r="3.35"/>
<circle cx="134.6" cy="654.5" r="3.35"/>
<circle cx="136.9" cy="661.7" r="3.35"/>
<circle cx="139.2" cy="669" r="3.35"/>
<circle cx="141.5" cy="676.8" r="3.35"/>
<circle cx="143.8" cy="684.6" r="3.35"/>
<circle cx="146.5" cy="693" r="3.35"/>
<circle cx="148.8" cy="700.5" r="3.35"/>
<circle cx="151.6" cy="708.3" r="3.35"/>
<circle cx="155.3" cy="716.6" r="3.35"/>
<circle cx="159.7" cy="723.1" r="3.35"/>
<circle cx="168.5" cy="731" r="3.35"/>
<circle cx="202.6" cy="737.8" r="3.35"/>
<circle cx="248.9" cy="739" r="3.35"/>
<circle cx="265.6" cy="731.7" r="3.35"/>
<circle cx="279" cy="724.7" r="3.35"/>
<circle cx="285.6" cy="717.6" r="3.35"/>
<circle cx="289.1" cy="709.7" r="3.35"/>
<circle cx="291.9" cy="702.7" r="3.35"/>
<circle cx="293.9" cy="695.8" r="3.35"/>
<circle cx="295.7" cy="689.2" r="3.35"/>
<circle cx="297.1" cy="682.7" r="3.35"/>
<circle cx="298.1" cy="676.3" r="3.35"/>
<circle cx="299.1" cy="670" r="3.35"/>
<circle cx="299.9" cy="664" r="3.35"/>
<circle cx="300.6" cy="658.1" r="3.35"/>
<circle cx="301.4" cy="652.2" r="3.35"/>
<circle cx="302" cy="646.2" r="3.35"/>
<circle cx="302.6" cy="640.6" r="3.35"/>
<circle cx="303.2" cy="635.1" r="3.35"/>
<circle cx="303.8" cy="629.7" r="3.35"/>
<circle cx="304.2" cy="624.4" r="3.35"/>
<circle cx="304.6" cy="619.2" r="3.35"/>
<circle cx="305" cy="613.9" r="3.35"/>
<circle cx="305.4" cy="608.9" r="3.35"/>
<circle cx="305.8" cy="604" r="3.35"/>
</g>
<rect x="175.4" y="605.4" width="88.1" height="33" fill="#fff" stroke="#505050" stroke-width="1.0"/>
<line x1="180.7" y1="616.4" x2="200.8" y2="616.4" stroke="#111" stroke-width="0.8"/>
<g fill="#fff" stroke="#111" stroke-width="0.85">
<rect x="187.4" y="613.2" width="6.4" height="6.4"/>
</g>
<line x1="180.7" y1="627.9" x2="200.8" y2="627.9" stroke="#111" stroke-width="0.8"/>
<g fill="#fff" stroke="#111" stroke-width="0.85">
<circle cx="190.6" cy="627.9" r="3.35"/>
</g>
<text x="205.6" y="619.5" transform="rotate(0.05 205.6 619.5)" font-size="8.6" stroke="#000" stroke-width="0.15">Lime extract</text>
<text x="205.6" y="630.7" transform="rotate(0.05 205.6 630.7)" font-size="8.6" stroke="#000" stroke-width="0.15">Bilimbi extract</text>
<text x="65.9" y="586.3" transform="rotate(0.05 65.9 586.3)" font-size="15.5" font-weight="bold" letter-spacing="0.5">(e)</text>
<g transform="translate(20 727.9) rotate(-90)" font-weight="bold" font-size="13.5"><text letter-spacing="0.2">Buffer capacity</text><text x="94.4" font-size="16" font-weight="normal" font-style="italic" stroke="#000" stroke-width="0.35">β</text><text x="105.0" font-size="14" letter-spacing="-0.8">(-)</text></g>
<text x="206.6" y="803.2" transform="rotate(0.05 206.6 803.2)" font-size="14.3" font-weight="bold" text-anchor="middle" letter-spacing="0">pH (-)</text>
</svg></body></html>
